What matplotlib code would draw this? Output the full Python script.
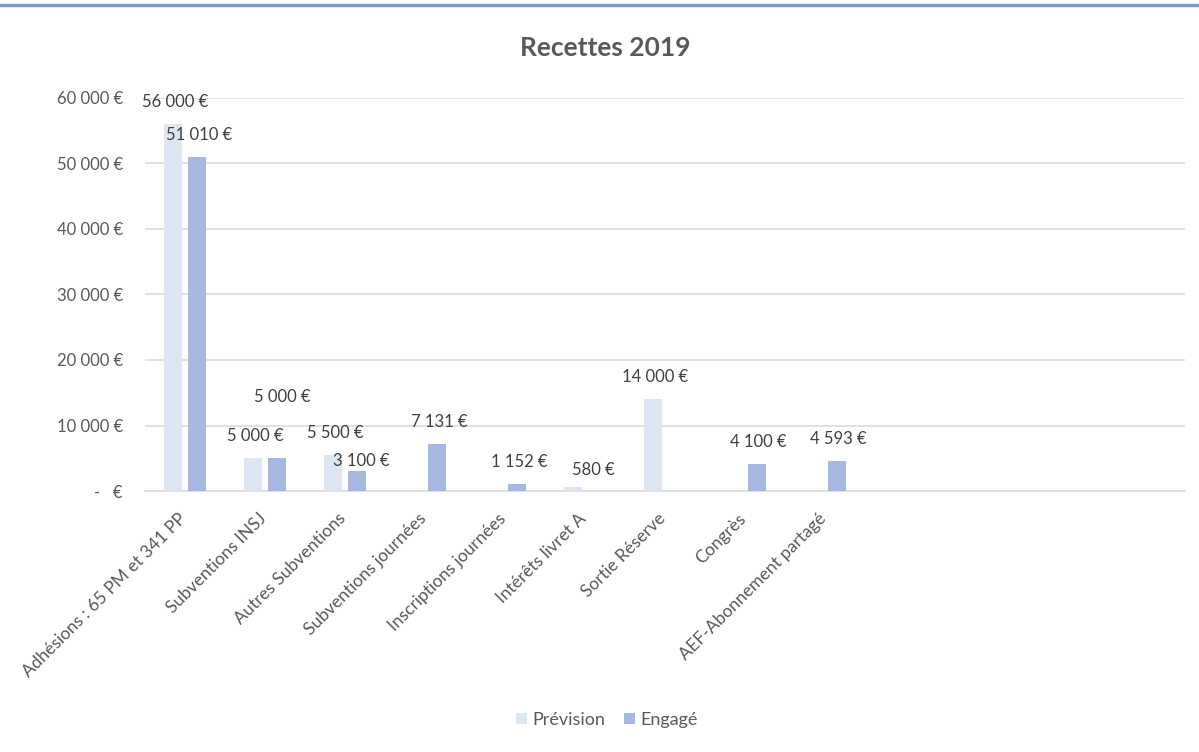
import numpy as np
import matplotlib
matplotlib.use("Agg")
import matplotlib.pyplot as plt
from matplotlib.lines import Line2D
from matplotlib.patches import Patch
from matplotlib.ticker import FuncFormatter, MultipleLocator
from matplotlib.transforms import ScaledTranslation

plt.rcParams['font.family'] = ['Lato', 'DejaVu Sans']

categories = ["Adhésions : 65 PM et 341 PP", "Subventions INSJ", "Autres Subventions",
              "Subventions journées", "Inscriptions journées", "Intérêts livret A",
              "Sortie Réserve", "Congrès", "AEF-Abonnement partagé", "", "", "", ""]
prevision = [56000, 5000, 5500, np.nan, np.nan, 580, 14000, np.nan, np.nan,
             np.nan, np.nan, np.nan, np.nan]
engage = [51010, 5000, 3100, 7131, 1152, np.nan, np.nan, 4100, 4593,
          np.nan, np.nan, np.nan, np.nan]
series_names = ["Prévision", "Engagé"]

# label placement tweaks (pixels): (dx, dy above bar top)
prev_offsets = {5: (20, 17)}
eng_offsets = {1: (5, 61), 2: (4, 10)}

c_prev = "#dee6f3"
c_eng = "#a5b8df"
txt = "#595959"
lab = "#404040"
fs = 12

fig = plt.figure(figsize=(11.99, 7.52), dpi=100)
ax = fig.add_axes([0.121, 0.347, 0.867, 0.523])

x = np.arange(len(categories))
w = 0.225
off = 0.15
b1 = ax.bar(x - off, prevision, w, color=c_prev, zorder=3)
b2 = ax.bar(x + off, engage, w, color=c_eng, zorder=3)

def fmt(v):
    return f"{int(round(v)):,}".replace(",", " ") + " €"

for bars, vals, offs in ((b1, prevision, prev_offsets), (b2, engage, eng_offsets)):
    for i, (r, v) in enumerate(zip(bars, vals)):
        if np.isnan(v):
            continue
        dx, dy = offs.get(i, (2, 22))
        ax.annotate(fmt(v), (r.get_x() + r.get_width() / 2, v),
                    xytext=(dx, dy), textcoords="offset pixels",
                    ha="center", va="center", fontsize=fs, color=lab, zorder=5)

ax.set_xlim(-0.5, len(categories) - 0.5)
ax.set_ylim(0, 60000)
ax.yaxis.set_major_locator(MultipleLocator(10000))

def yfmt(v, pos):
    if v == 0:
        return "-   €"
    return fmt(v)

ax.yaxis.set_major_formatter(FuncFormatter(yfmt))
ax.grid(axis="y", color="#d9d9d9", linewidth=1.1, zorder=0)
ax.set_axisbelow(True)
for s in ["top", "right", "left"]:
    ax.spines[s].set_visible(False)
ax.spines["bottom"].set_color("#d9d9d9")
ax.spines["bottom"].set_linewidth(1.1)
ax.tick_params(axis="y", length=0, pad=16, labelsize=fs, labelcolor=txt)
ax.tick_params(axis="x", length=0, pad=14, labelsize=12.5, labelcolor=txt)
ax.set_xticks(x)
ax.set_xticklabels(categories, rotation=45, ha="right", va="top", rotation_mode="anchor")
shift = ScaledTranslation(-7 / 100, 0, fig.dpi_scale_trans)
for t in ax.get_xticklabels():
    t.set_transform(t.get_transform() + shift)

fig.text(0.505, 0.936, "Recettes 2019", ha="center", va="center",
         fontsize=19, fontweight="bold", color=txt)

fig.add_artist(Line2D([0, 1], [0.9934, 0.9934], color="#7f98ca", linewidth=2.5,
                      transform=fig.transFigure))

handles = [Patch(facecolor=c_prev, edgecolor="none"), Patch(facecolor=c_eng, edgecolor="none")]
fig.legend(handles, series_names, loc="center", bbox_to_anchor=(0.506, 0.043), ncol=2,
           frameon=False, fontsize=13, labelcolor=txt, handlelength=0.6, handleheight=0.6,
           handletextpad=0.3, columnspacing=1.05)

fig.savefig("out.png", dpi=100)
